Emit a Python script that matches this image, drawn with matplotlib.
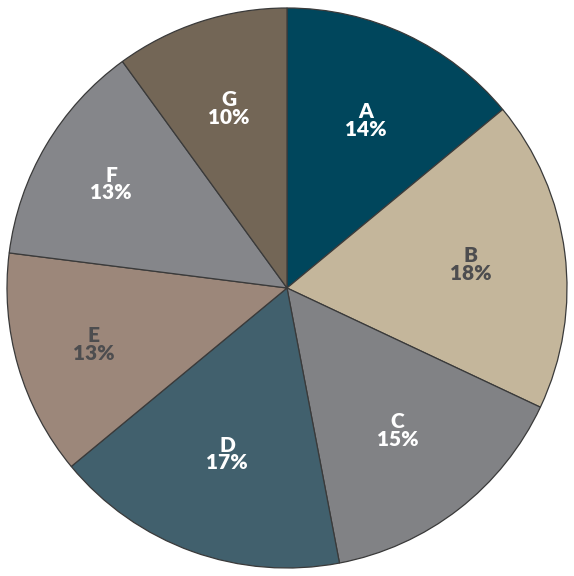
import numpy as np
import matplotlib
matplotlib.use("Agg")
import matplotlib.pyplot as plt

# slice data, clockwise from the top
categories = ["A", "B", "C", "D", "E", "F", "G"]
shares = [14, 18, 15, 17, 13, 13, 10]
colors = ["#00465c", "#c4b69b", "#818285", "#41606d", "#9c877a", "#85868a", "#736656"]
text_colors = ["white", "#4d4d4f", "white", "white", "#4d4d4f", "white", "white"]

# how far out each label sits (fraction of the radius), as in the original
label_dist = [0.66, 0.66, 0.645, 0.63, 0.72, 0.73, 0.675]

fig = plt.figure(figsize=(5.74, 5.76), dpi=100)
ax = fig.add_axes([7 / 574, 8 / 576, 560 / 574, 560 / 576])

wedges, _ = ax.pie(shares, colors=colors, startangle=90, counterclock=False,
                   wedgeprops=dict(edgecolor="#3a3a3a", linewidth=0.9))

for w, c, s, tc, d in zip(wedges, categories, shares, text_colors, label_dist):
    mid = np.deg2rad((w.theta1 + w.theta2) / 2)
    ax.text(d * np.cos(mid), d * np.sin(mid), "{}\n{}%".format(c, s),
            ha="center", va="center", color=tc, fontsize=15,
            family=["Lato", "DejaVu Sans"], fontweight="heavy",
            linespacing=0.92, multialignment="center")

ax.set_xlim(-1, 1)
ax.set_ylim(-1, 1)
ax.set_aspect("auto")
ax.set_axis_off()

fig.savefig("out.png", dpi=100)
